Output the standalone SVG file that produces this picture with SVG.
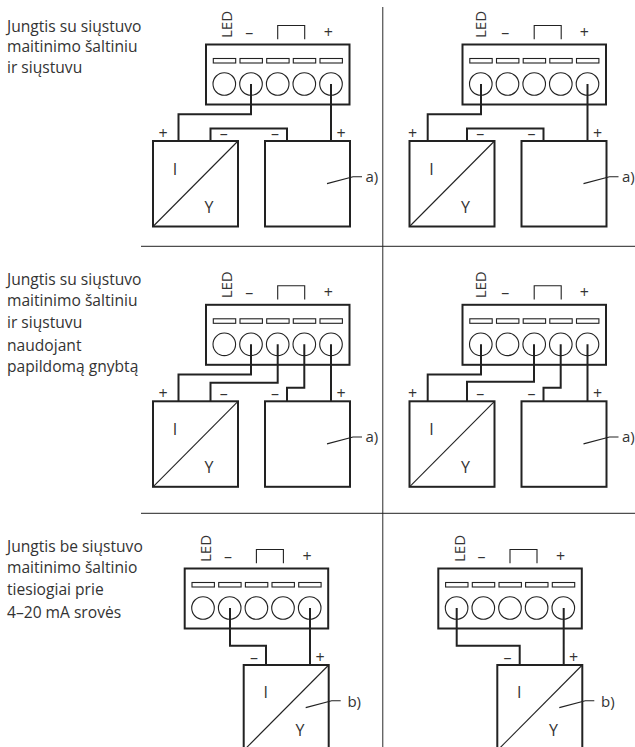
<svg xmlns="http://www.w3.org/2000/svg" width="635" height="747" viewBox="0 0 635 747">
<style>
text{font-family:"Open Sans","Noto Sans",sans-serif;fill:#333;font-size:16px}
.t{font-size:15.600px}
.led{font-size:15px}
.n{font-size:15px}
.c{text-anchor:middle}
.bx{fill:none;stroke:#222;stroke-width:2}
.s{fill:#fff;stroke:#222;stroke-width:1.100}
.d{fill:none;stroke:#222;stroke-width:1.100}
.w{fill:none;stroke:#222;stroke-width:2}
.sv{stroke:#666;stroke-width:1.400;fill:none}
.sh{stroke:#222;stroke-width:1;fill:none}
</style>
<defs>
<g id="term">
<rect class="bx" x="206" y="44.500" width="143.500" height="60"/>
<rect class="s" x="213.300" y="58.500" width="22.400" height="4.500"/><rect class="s" x="240" y="58.500" width="22.400" height="4.500"/><rect class="s" x="266.700" y="58.500" width="22.400" height="4.500"/><rect class="s" x="293.300" y="58.500" width="22.400" height="4.500"/><rect class="s" x="320" y="58.500" width="22.400" height="4.500"/>
<circle class="d" cx="224.300" cy="84" r="11.300"/><circle class="d" cx="251" cy="84" r="11.300"/><circle class="d" cx="277.700" cy="84" r="11.300"/><circle class="d" cx="304.300" cy="84" r="11.300"/><circle class="d" cx="331" cy="84" r="11.300"/>
<path class="d" d="M277.700 39.300V25.500H304.700V39.300"/>
</g>
<g id="iy"><rect class="bx" x="153" y="141" width="85" height="85.500"/><path class="d" d="M153 226.500L238 141"/></g>
<rect id="dev" class="bx" x="265" y="141" width="85" height="85.500"/>
<g id="iy3"><rect class="bx" x="265" y="141" width="85" height="85.500"/><path class="d" d="M265 226.500L350 141"/></g>
<path id="lead" class="d" d="M327 183.600L353 176.700H362"/>
</defs>
<g id="separators">
<path class="sv" d="M382.700 7V747"/>
<path class="sh" d="M141 246.300H635M141 513.300H635"/>
</g>
<g id="captions">
<text class="t" x="7" y="31.500">Jungtis su siųstuvo</text>
<text class="t" x="7" y="52">maitinimo šaltiniu</text>
<text class="t" x="7" y="73">ir siųstuvu</text>
<text class="t" x="7" y="285">Jungtis su siųstuvo</text>
<text class="t" x="7" y="306">maitinimo šaltiniu</text>
<text class="t" x="7" y="328">ir siųstuvu</text>
<text class="t" x="7" y="350.500">naudojant</text>
<text class="t" x="7" y="372">papildomą gnybtą</text>
<text class="t" x="7" y="551.500">Jungtis be siųstuvo</text>
<text class="t" x="7" y="573">maitinimo šaltinio</text>
<text class="t" x="7" y="595">tiesiogiai prie</text>
<text class="t" x="7" y="617.500">4–20 mA srovės</text>
</g>
<g id="connectors">
<path class="w" d="M251 84V114.300H178.500V141M331 84V141M210.500 141V128.500H287V141"/>
<path class="w" transform="translate(256.500,0)" d="M224.500 84V114.300H171.200V141M331 84V141M210.500 141V128.500H287V141"/>
<path class="w" transform="translate(0,260.300)" d="M251 84V114.300H178.500V141M277.700 84V122.400H210.500V141M304.300 84V127.400H287V141M331 84V141"/>
<path class="w" transform="translate(256.500,260.300)" d="M224.500 84V114.300H171.200V141M277.500 84V121.400H210.500V141M304.200 84V127.400H287V141M331 84V141"/>
<path class="w" transform="translate(-21.300,524)" d="M251.300 84V121.700H287.300V141M331.300 84V141"/>
<path class="w" transform="translate(232.300,524)" d="M224.400 84V121.700H287.400V141M331.400 84V141"/>
</g>
<g id="a1-terminal"><use href="#term"/><text class="led" transform="translate(231.700,38) rotate(-90)">LED</text><text class="c" x="249.300" y="38">–</text><text class="c" x="328.300" y="38">+</text></g>
<g id="a1-converter"><use href="#iy"/><text class="c" x="163" y="138.500">+</text><text class="c" x="223.700" y="138.500">–</text><text class="c" x="175" y="175">I</text><text class="c" x="209" y="213">Y</text></g>
<g id="a1-device"><use href="#dev"/><use href="#lead"/><text class="c" x="275" y="138.500">–</text><text class="c" x="341" y="138.500">+</text><text class="n" x="365.500" y="182">a)</text></g>
<g id="b1-terminal" transform="translate(256.500,0)"><use href="#term"/><text class="led" transform="translate(229.500,38) rotate(-90)">LED</text><text class="c" x="248.800" y="38">–</text><text class="c" x="327.800" y="38">+</text></g>
<g id="b1-converter" transform="translate(256.500,0)"><use href="#iy"/><text class="c" x="156.200" y="138.500">+</text><text class="c" x="223.700" y="138.500">–</text><text class="c" x="175" y="175">I</text><text class="c" x="209" y="213">Y</text></g>
<g id="b1-device" transform="translate(256.500,0)"><use href="#dev"/><use href="#lead"/><text class="c" x="275" y="138.500">–</text><text class="c" x="341" y="138.500">+</text><text class="n" x="365.500" y="182">a)</text></g>
<g id="a2-terminal" transform="translate(0,260.300)"><use href="#term"/><text class="led" transform="translate(231.700,38) rotate(-90)">LED</text><text class="c" x="249.300" y="38">–</text><text class="c" x="328.300" y="38">+</text></g>
<g id="a2-converter" transform="translate(0,260.300)"><use href="#iy"/><text class="c" x="163" y="138.500">+</text><text class="c" x="223.700" y="138.500">–</text><text class="c" x="175" y="175">I</text><text class="c" x="209" y="213">Y</text></g>
<g id="a2-device" transform="translate(0,260.300)"><use href="#dev"/><use href="#lead"/><text class="c" x="275" y="138.500">–</text><text class="c" x="341" y="138.500">+</text><text class="n" x="365.500" y="182">a)</text></g>
<g id="b2-terminal" transform="translate(256.500,260.300)"><use href="#term"/><text class="led" transform="translate(229.500,38) rotate(-90)">LED</text><text class="c" x="248.800" y="38">–</text><text class="c" x="327.800" y="38">+</text></g>
<g id="b2-converter" transform="translate(256.500,260.300)"><use href="#iy"/><text class="c" x="156.200" y="138.500">+</text><text class="c" x="223.700" y="138.500">–</text><text class="c" x="175" y="175">I</text><text class="c" x="209" y="213">Y</text></g>
<g id="b2-device" transform="translate(256.500,260.300)"><use href="#dev"/><use href="#lead"/><text class="c" x="275" y="138.500">–</text><text class="c" x="341" y="138.500">+</text><text class="n" x="365.500" y="182">a)</text></g>
<g id="a3-terminal" transform="translate(-21.300,524)"><use href="#term"/><text class="led" transform="translate(232.300,38) rotate(-90)">LED</text><text class="c" x="249.300" y="38">–</text><text class="c" x="328.300" y="38">+</text></g>
<g id="a3-converter" transform="translate(-21.300,524)"><use href="#iy3"/><use href="#lead"/><text class="c" x="275.300" y="138.500">–</text><text class="c" x="341.300" y="138.500">+</text><text class="c" x="287" y="173.500">I</text><text class="c" x="321.300" y="212">Y</text><text class="n" x="368.700" y="182.700">b)</text></g>
<g id="b3-terminal" transform="translate(232.300,524)"><use href="#term"/><text class="led" transform="translate(232.700,38) rotate(-90)">LED</text><text class="c" x="249.300" y="38">–</text><text class="c" x="328.300" y="38">+</text></g>
<g id="b3-converter" transform="translate(232.300,524)"><use href="#iy3"/><use href="#lead"/><text class="c" x="275.300" y="138.500">–</text><text class="c" x="341.300" y="138.500">+</text><text class="c" x="287" y="173.500">I</text><text class="c" x="321.300" y="212">Y</text><text class="n" x="368.700" y="182.700">b)</text></g>
</svg>
